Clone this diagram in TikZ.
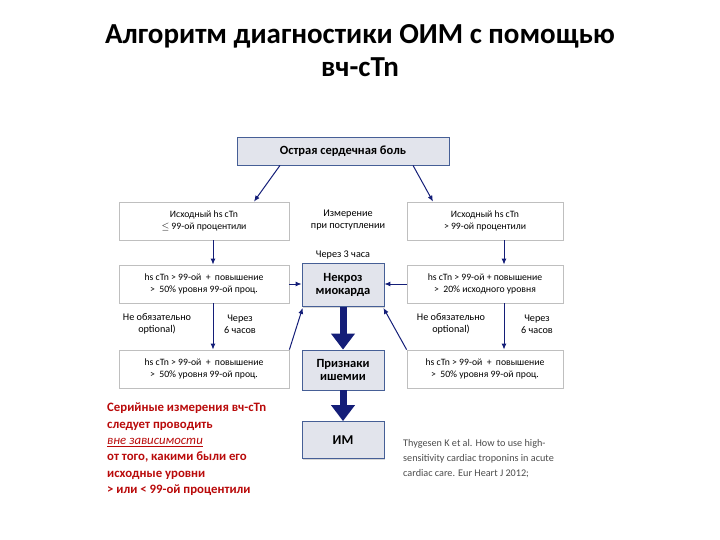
\documentclass[tikz,border=0pt]{standalone}
\usepackage{fontspec}
\setmainfont{Carlito}
\usepackage{tikz}
\usetikzlibrary{arrows.meta, positioning, shadows}

\definecolor{boxfill}{RGB}{226,228,236}
\definecolor{boxedge}{RGB}{70,95,150}
\definecolor{arrowblue}{RGB}{20,30,120}
\definecolor{notered}{RGB}{185,10,10}

\begin{document}
\begin{tikzpicture}[
  x=1pt, y=-1pt,
  >=Latex,
  key/.style   = {draw=boxedge, fill=boxfill, line width=0.8pt, align=center,
                  font=\fontsize{12.5}{13.5}\selectfont\bfseries, inner sep=0pt,
                  drop shadow={shadow xshift=1.2pt, shadow yshift=-1.2pt, fill=black!30}},
  test/.style  = {draw=black!25, fill=white, line width=0.8pt, align=center,
                  font=\fontsize{9.7}{12}\selectfont, inner sep=0pt,
                  minimum height=38pt,
                  drop shadow={shadow xshift=1.2pt, shadow yshift=-1.2pt, fill=black!25}},
  note/.style  = {align=center, font=\fontsize{10.2}{12}\selectfont, inner sep=0pt},
  link/.style  = {->, draw=arrowblue, line width=1pt, >={Latex[length=6pt,width=5pt]}},
  flow/.style  = {-{Triangle[length=16pt,width=23pt]}, draw=arrowblue, line width=7pt},
]
\useasboundingbox (0,0) rectangle (720,540);

% title
\node[font=\fontsize{29}{33}\selectfont\bfseries, align=center] (title) at (360,51)
  {Алгоритм диагностики ОИМ с помощью\\вч-cTn};

% central column
\node[key, minimum width=212pt, minimum height=28pt] (pain) at (343,151) {Острая сердечная боль};
\node[key, minimum width=82pt, minimum height=43pt] (necro) at (343,285) {Некроз\\миокарда};
\node[key, minimum width=82pt, minimum height=40pt] (isch)  at (343,370) {Признаки\\ишемии};
\node[key, minimum width=82pt, minimum height=37pt, font=\fontsize{13.5}{14}\selectfont\bfseries] (mi) at (343,440) {ИМ};

% left branch
\node[test, minimum width=170pt] (lbase) at (204,221) {Исходный hs cTn\\ $\leq$ 99-ой процентили};
\node[test, minimum width=170pt] (lrise) at (204,284) {hs cTn > 99-ой \ + \ повышение\\ > \ 50\% уровня 99-ой проц.};
\node[test, minimum width=170pt] (lrep)  at (204,369) {hs cTn > 99-ой \ + \ повышение\\ > \ 50\% уровня 99-ой проц.};

% right branch
\node[test, minimum width=156pt] (rbase) at (485,221) {Исходный hs cTn\\ > 99-ой процентили};
\node[test, minimum width=156pt] (rrise) at (485,284) {hs cTn > 99-ой + повышение\\ > \ 20\% исходного уровня};
\node[test, minimum width=156pt] (rrep)  at (485,369) {hs cTn > 99-ой \ + \ повышение\\ > \ 50\% уровня 99-ой проц.};

% labels
\node[note] (admit) at (348,220) {Измерение\\при поступлении};
\node[note] (h3)    at (343,255) {Через 3 часа};
\node[note] (lopt)  at (157,324) {Не обязательно\\optional)};
\node[note] (l6h)   at (240,324) {Через\\6 часов};
\node[note] (ropt)  at (451,324) {Не обязательно\\optional)};
\node[note] (r6h)   at (537,324) {Через\\6 часов};

% red remark
\node[anchor=north west, align=left, text=notered, inner sep=0pt,
      font=\fontsize{12.8}{16.3}\selectfont\bfseries] (remark) at (107,403)
  {Серийные измерения вч-cTn\\следует проводить\\
   {\mdseries\itshape\underline{вне зависимости}}\\от того, какими были его\\
   исходные уровни\\> или < 99-ой процентили};

% reference
\node[anchor=north west, align=left, text=black!70, inner sep=0pt,
      font=\fontsize{10.2}{15}\selectfont] (cite) at (403,439)
  {Thygesen K et al. How to use high-\\sensitivity cardiac troponins in acute\\cardiac care. Eur Heart J 2012;};

% thin connectors
\draw[link] ([xshift=-63pt]pain.south) -- ([xshift=50pt]lbase.north);
\draw[link] ([xshift=70pt]pain.south) -- ([xshift=-52pt]rbase.north);
\draw[link] ([xshift=9pt]lbase.south) -- ([xshift=9pt]lrise.north);
\draw[link] ([xshift=19pt]rbase.south) -- ([xshift=19pt]rrise.north);
\draw[link] (lrise.east) -- (necro.west |- lrise.east);
\draw[link] (rrise.west) -- (necro.east |- rrise.east);
\draw[link] ([xshift=9pt]lrise.south) -- ([xshift=9pt]lrep.north);
\draw[link] ([xshift=19pt]rrise.south) -- ([xshift=19pt]rrep.north);
\draw[link] (lrep.north east) -- ([shift={(1pt,-1pt)}]necro.south west);
\draw[link] (rrep.north west) -- ([shift={(-1pt,-1pt)}]necro.south east);

% main flow
\draw[flow] (necro.south) -- (isch.north);
\draw[flow] (isch.south) -- (mi.north);
\end{tikzpicture}
\end{document}
